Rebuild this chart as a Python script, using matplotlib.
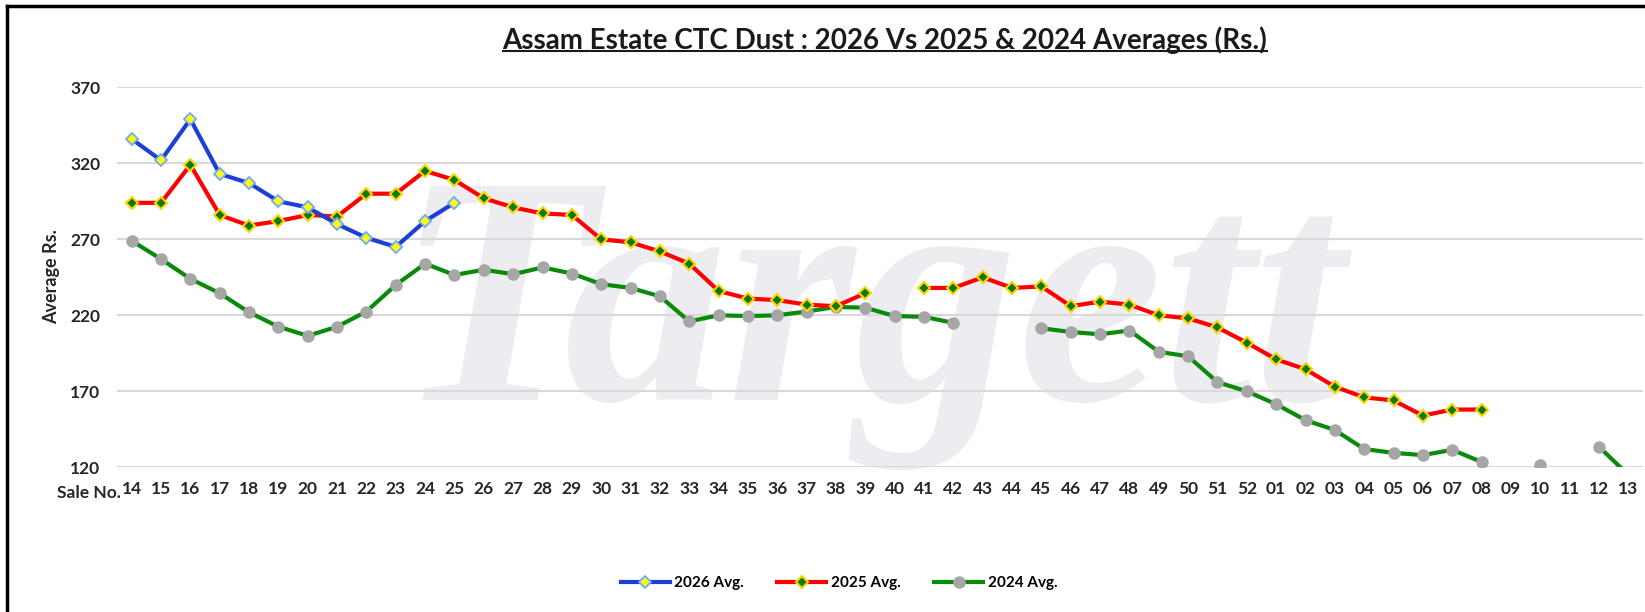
import matplotlib
matplotlib.use("Agg")
import matplotlib.pyplot as plt
from matplotlib.lines import Line2D
import numpy as np

plt.rcParams['font.family'] = ['Lato', 'DejaVu Sans']

nan = np.nan

sale_no = [str(s) for s in range(14, 53)] + ["%02d" % s for s in range(1, 14)]

# sales 14-25 only so far
avg_2026 = [336, 322, 349, 313, 307, 295, 291, 280, 271, 265, 282, 294]

avg_2025 = [294, 294, 319, 286, 279, 282, 286, 285, 300, 300, 315, 309, 297,
            291, 287, 286, 270, 268, 262, 254, 236, 231, 230, 227, 226, 234.5,
            nan, 238, 238, 245, 238, 239, 226, 229, 227, 220, 218, 212, 202,
            191, 184.5, 173, 166, 164, 154, 158, 158,
            nan, nan, nan, nan, nan]

avg_2024 = [269, 257, 244, 234.5, 222, 212.5, 206.5, 212.5, 222.5, 240, 254,
            246.5, 250, 247, 251.5, 247.5, 240.5, 238, 232.5, 216, 220, 219.5,
            220, 222.5, 225.5, 225, 219.5, 219, 215, nan, nan, 211.5, 209,
            207.5, 210, 196, 193, 176, 170, 161.5, 151, 144.5, 132, 129.5,
            128, 131.5, 123.5, nan, 121.5, nan, 133.5, 115]

x = np.arange(len(sale_no))
y26 = np.array(avg_2026 + [nan] * (len(sale_no) - len(avg_2026)))
y25 = np.array(avg_2025)
y24 = np.array(avg_2024)

W, H = 1645, 612
fig = plt.figure(figsize=(W / 100, H / 100), dpi=100)
ax = fig.add_axes([117 / W, 1 - 467.3 / H, (1643 - 117) / W, (467.3 - 87.3) / H])

# faint watermark
ax.text(870 / W, 1 - 400 / H, "Targett", transform=fig.transFigure,
        ha="center", va="baseline", fontsize=235, color="#ededf1",
        family="Liberation Serif", fontweight="bold", style="italic",
        zorder=0.1, clip_on=False)

ax.plot(x, y26, color="#1c3fd6", lw=3, marker="D", ms=6.5,
        mfc="#ffff00", mec="#6fa8ff", mew=1.3, label="2026 Avg.", zorder=5)
ax.plot(x, y25, color="#ff0000", lw=3, marker="D", ms=6.5,
        mfc="#0a7a0a", mec="#ffd400", mew=1.5, label="2025 Avg.", zorder=4)
ax.plot(x, y24, color="#0a8a0a", lw=3, marker="o", ms=8,
        mfc="#a6a6a6", mec="#a6a6a6", label="2024 Avg.", zorder=3)

ax.set_xlim(-0.5, len(sale_no) - 0.5)
ax.set_ylim(120, 370)
ax.set_yticks(np.arange(120, 371, 50))
ax.set_xticks(x)
ax.set_xticklabels(sale_no)
ax.grid(axis="y", color="#d9d9d9", lw=1.5)
ax.set_axisbelow(True)
for s in ax.spines.values():
    s.set_visible(False)
ax.tick_params(length=0, labelsize=12.5, colors="#262626")
ax.tick_params(axis="y", pad=12)
ax.tick_params(axis="x", pad=10)
for lab in ax.get_xticklabels() + ax.get_yticklabels():
    lab.set_fontweight("bold")
ax.patch.set_alpha(0)

fig.text(121 / W, 1 - 493 / H, "Sale No.", ha="right", va="center",
         fontsize=12.5, fontweight="bold", color="#262626")
fig.text(52 / W, 1 - 277 / H, "Average Rs.", rotation=90, ha="center",
         va="center", fontsize=13, fontweight="bold", color="#262626")

title = fig.text(885 / W, 1 - 40 / H,
                 "Assam Estate CTC Dust : 2026 Vs 2025 & 2024 Averages (Rs.)",
                 ha="center", va="center", fontsize=20, fontweight="bold",
                 color="#1a1a1a")

ax.legend(loc="center", bbox_to_anchor=(839 / W, 1 - 583 / H),
          bbox_transform=fig.transFigure, ncol=3, frameon=False,
          handlelength=3.2, columnspacing=2.2, handletextpad=0.3,
          prop={"weight": "bold", "size": 11})

# underline the title
fig.canvas.draw()
bb = title.get_window_extent()
uy = (bb.y0 + 3) / H
fig.add_artist(Line2D([bb.x0 / W, bb.x1 / W], [uy, uy], color="#1a1a1a", lw=1.5))

# outer frame (top and left edges visible)
fig.add_artist(Line2D([7 / W, 1], [1 - 6 / H, 1 - 6 / H], color="black", lw=2.5))
fig.add_artist(Line2D([7 / W, 7 / W], [0, 1 - 6 / H], color="black", lw=2.5))

fig.savefig("out.png", dpi=100)
